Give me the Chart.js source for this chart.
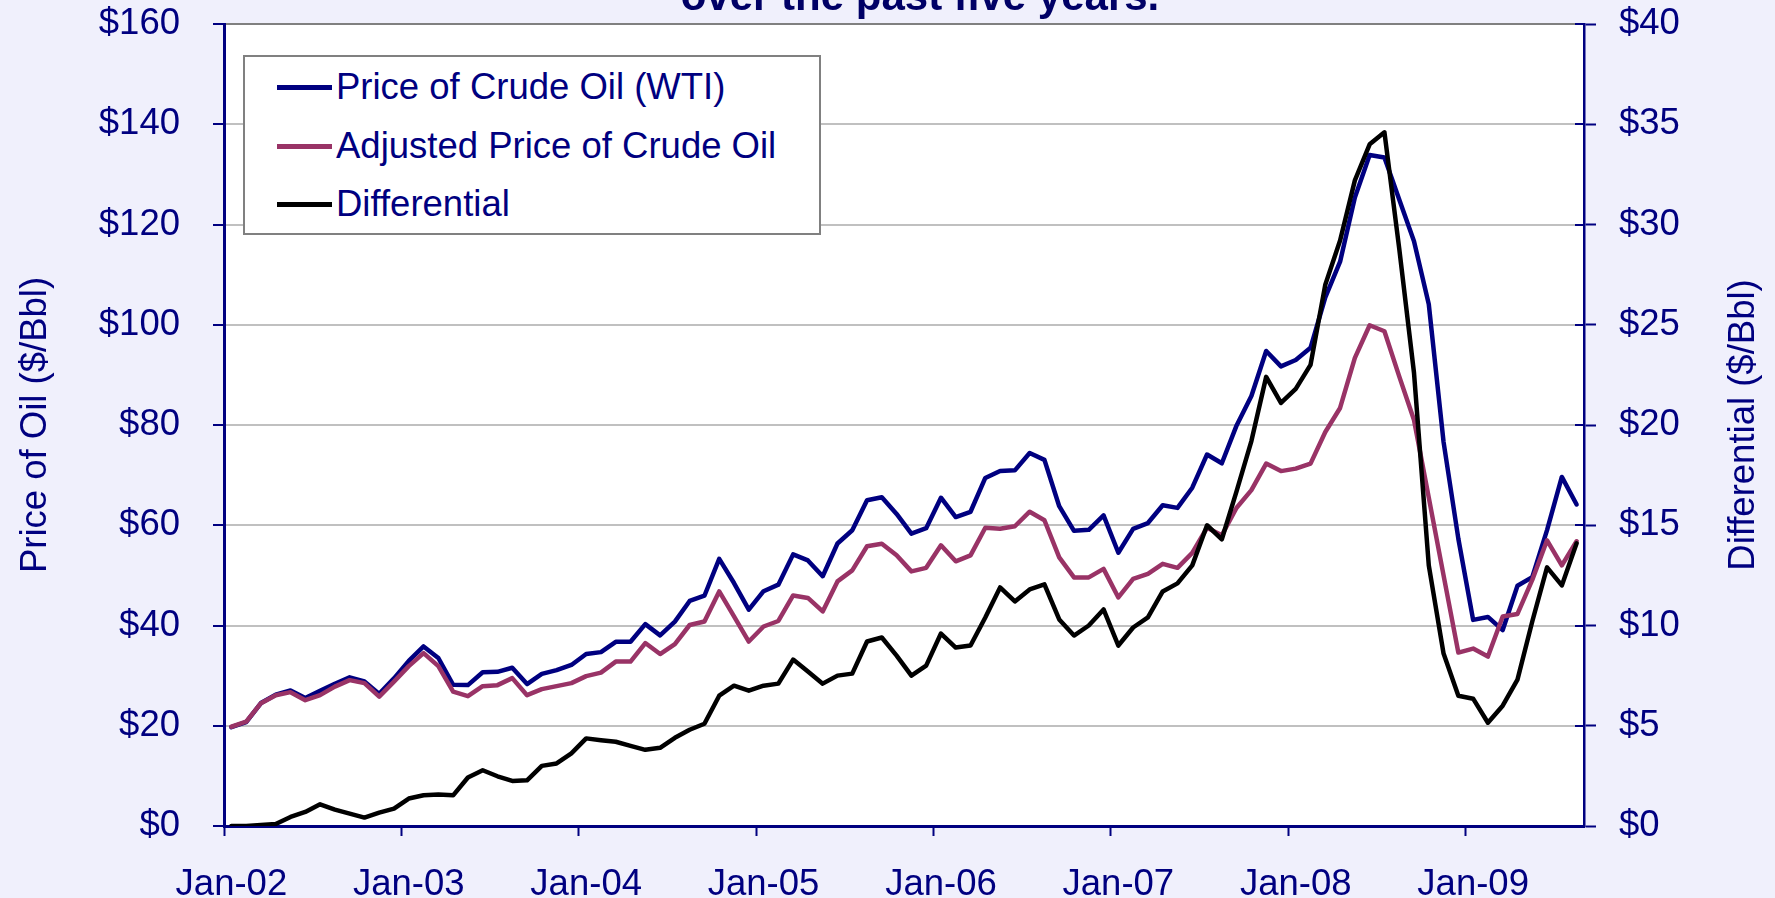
<!DOCTYPE html>
<html>
<head>
<meta charset="utf-8">
<script src="https://cdn.jsdelivr.net/npm/chart.js@4.4.1/dist/chart.umd.min.js"></script>
<style>
  html, body { margin: 0; padding: 0; background: #F0F0FC; overflow: hidden; }
  #wrap { position: relative; width: 1775px; height: 898px; overflow: hidden; }
  #c { position: absolute; left: 0; top: 0; }
  #title { position: absolute; left: 920px; top: -25px; transform: translateX(-50%);
           font: bold 42px 'Liberation Sans', Arial, sans-serif; line-height: 42px;
           color: #000066; white-space: nowrap; }
  #legend { position: absolute; left: 243px; top: 55px; width: 574px; height: 176px;
            background: #ffffff; border: 2px solid #808080; }
  .row { position: absolute; left: 0; height: 40px; display: flex; align-items: center;
         font: 36.5px 'Liberation Sans', Arial, sans-serif; color: #000080; white-space: nowrap; }
  .sw { display: inline-block; width: 55px; height: 5px; margin-left: 32px; margin-right: 4px; }
</style>
</head>
<body>
<div id="wrap">
  <canvas id="c" width="1775" height="898"></canvas>
  <div id="title"></div>
  <div id="legend"></div>
</div>
<script>
// ---------------- data ----------------
const chartTitle = 'over the past five years.';
const leftAxisTitle = 'Price of Oil ($/Bbl)';
const rightAxisTitle = 'Differential ($/Bbl)';
const tickLabels = ['Jan-02', 'Jan-03', 'Jan-04', 'Jan-05', 'Jan-06', 'Jan-07', 'Jan-08', 'Jan-09'];
const monthNames = ['Jan','Feb','Mar','Apr','May','Jun','Jul','Aug','Sep','Oct','Nov','Dec'];
const seriesNames = ['Price of Crude Oil (WTI)', 'Adjusted Price of Crude Oil', 'Differential'];

const wti = [19.71,20.72,24.53,26.18,27.04,25.52,26.97,28.39,29.66,28.84,26.35,29.46,
  32.95,35.83,33.51,28.17,28.11,30.66,30.76,31.57,28.31,30.34,31.11,32.13,
  34.31,34.69,36.74,36.75,40.28,38.03,40.78,44.90,45.94,53.28,48.47,43.15,
  46.84,48.15,54.19,52.98,49.83,56.35,59.00,64.99,65.59,62.26,58.32,59.41,
  65.49,61.63,62.69,69.44,70.84,70.95,74.41,73.04,63.80,58.89,59.08,61.96,
  54.51,59.28,60.44,63.98,63.46,67.49,74.12,72.36,79.92,85.80,94.77,91.69,
  92.97,95.39,105.45,112.58,125.40,133.88,133.37,125.0,116.67,104.11,76.61,57.31,
  41.12,41.71,39.09,47.94,49.65,59.03,69.64,64.15];

const adjusted = [19.8,20.8,24.5,26.1,26.7,25.1,26.1,27.8,29.1,28.5,25.8,28.8,
  31.9,34.5,31.9,26.8,25.9,27.9,28.1,29.5,26.1,27.3,27.9,28.5,
  29.9,30.6,32.8,32.8,36.5,34.3,36.3,40.1,40.8,46.8,41.8,36.8,
  39.8,40.9,46.0,45.5,42.8,48.8,51.0,55.8,56.3,54.0,50.8,51.5,
  56.0,52.8,54.0,59.5,59.3,59.8,62.7,61.0,53.6,49.6,49.6,51.3,
  45.6,49.3,50.3,52.3,51.5,54.5,59.5,58.0,63.5,67.0,72.3,70.8,
  71.3,72.3,78.6,83.4,93.4,99.9,98.7,89.7,81.0,65.5,50.0,34.6,
  35.4,33.8,41.8,42.3,49.1,57.0,52.0,56.8];

const differential = [0.0,0.0,0.05,0.1,0.45,0.7,1.08,0.82,0.62,0.42,0.67,0.87,
  1.37,1.53,1.57,1.53,2.42,2.78,2.48,2.25,2.28,3.0,3.12,3.62,
  4.37,4.28,4.2,4.0,3.8,3.9,4.4,4.8,5.1,6.5,7.0,6.75,
  7.0,7.1,8.3,7.7,7.1,7.5,7.6,9.2,9.4,8.5,7.5,8.0,
  9.6,8.9,9.0,10.4,11.9,11.2,11.8,12.05,10.3,9.5,10.0,10.8,
  9.0,9.9,10.4,11.7,12.1,13.0,15.0,14.3,16.7,19.2,22.4,21.1,
  21.8,23.0,27.0,29.2,32.2,34.0,34.6,28.8,22.6,13.0,8.6,6.5,
  6.35,5.15,6.0,7.3,10.2,12.9,12.0,14.1];

// category labels (one per point)
const monthLabels = [];
for (let k = 0; k < wti.length; k++) {
  monthLabels.push(monthNames[k % 12] + '-' + String(2 + Math.floor(k / 12)).padStart(2, '0'));
}

// ---------------- style ----------------
const FONT = "'Liberation Sans', Arial, Helvetica, sans-serif";
const NAVY = '#000080';
const COLORS = ['#000080', '#993366', '#000000'];

const plotBg = {
  id: 'plotBg',
  beforeDraw(chart) {
    const a = chart.chartArea, ctx = chart.ctx;
    ctx.save();
    ctx.fillStyle = '#ffffff';
    ctx.fillRect(a.left, a.top, a.right - a.left, a.bottom - a.top);
    ctx.restore();
  }
};

const rightExtras = {
  id: 'rightExtras',
  afterDraw(chart) {
    const a = chart.chartArea, ctx = chart.ctx;
    const s = chart.scales.y2;
    ctx.save();
    // inner half of the crossing tick marks on the right axis
    ctx.strokeStyle = NAVY;
    ctx.lineWidth = 2;
    s.ticks.forEach((t) => {
      const y = Math.round(s.getPixelForValue(t.value));
      ctx.beginPath();
      ctx.moveTo(a.right - 9, y);
      ctx.lineTo(a.right, y);
      ctx.stroke();
    });
    // right axis title, reading bottom-to-top
    ctx.translate(s.right - 31, (a.top + a.bottom) / 2);
    ctx.rotate(-Math.PI / 2);
    ctx.font = '36.5px ' + FONT;
    ctx.fillStyle = NAVY;
    ctx.textAlign = 'center';
    ctx.textBaseline = 'middle';
    ctx.fillText(rightAxisTitle, 0, 0);
    ctx.restore();
  }
};

const tickFont = { family: FONT, size: 36.5 };
const noPadV = (s) => { s.paddingTop = 0; s.paddingBottom = 0; };

const chart = new Chart(document.getElementById('c'), {
  type: 'line',
  data: {
    labels: monthLabels,
    datasets: [
      { label: seriesNames[0], data: wti, borderColor: COLORS[0], yAxisID: 'y', order: 3 },
      { label: seriesNames[1], data: adjusted, borderColor: COLORS[1], yAxisID: 'y', order: 2 },
      { label: seriesNames[2], data: differential, borderColor: COLORS[2], yAxisID: 'y2', order: 1 }
    ]
  },
  options: {
    responsive: false,
    animation: false,
    devicePixelRatio: 1,
    layout: { padding: { top: 24, left: 0, right: 0, bottom: 0 } },
    elements: {
      line: { borderWidth: 4.5, tension: 0, borderJoinStyle: 'round', borderCapStyle: 'round', fill: false },
      point: { radius: 0, hoverRadius: 0 }
    },
    plugins: { legend: { display: false }, tooltip: { enabled: false }, title: { display: false } },
    scales: {
      x: {
        type: 'category',
        position: 'bottom',
        offset: true,
        grid: {
          offset: true,
          drawOnChartArea: false,
          drawTicks: true,
          tickLength: 10,
          tickWidth: 2,
          tickColor: (ctx) => (ctx.index % 12 === 0 && ctx.index < wti.length) ? NAVY : 'rgba(0,0,0,0)'
        },
        border: { color: NAVY, width: 3 },
        ticks: {
          autoSkip: false, maxRotation: 0, minRotation: 0,
          color: NAVY, font: tickFont, padding: 27,
          callback: (v, i) => (i % 12 === 0 ? tickLabels[i / 12] : '')
        },
        afterFit: (s) => { s.height = 72; s.paddingLeft = 0; s.paddingRight = 0; }
      },
      y: {
        position: 'left',
        min: 0, max: 160,
        ticks: { stepSize: 20, color: NAVY, font: tickFont, padding: 33, callback: (v) => '$' + v },
        grid: {
          color: (ctx) => ctx.tick.value === 160 ? '#808080' : (ctx.tick.value === 0 ? 'rgba(0,0,0,0)' : '#C0C0C0'),
          lineWidth: 2,
          tickColor: NAVY, tickLength: 11, tickWidth: 2
        },
        border: { color: NAVY, width: 3 },
        title: { display: true, text: leftAxisTitle, color: NAVY, font: tickFont, padding: { top: 14, bottom: 0 } },
        afterFit: (s) => { s.width = 224; noPadV(s); }
      },
      y2: {
        position: 'right',
        min: 0, max: 40,
        ticks: { stepSize: 5, color: NAVY, font: tickFont, padding: 23, callback: (v) => '$' + v },
        grid: { drawOnChartArea: false, tickColor: NAVY, tickLength: 12, tickWidth: 2 },
        border: { color: NAVY, width: 2.5 },
        afterFit: (s) => { s.width = 191; noPadV(s); }
      }
    }
  },
  plugins: [plotBg, rightExtras]
});

// title (real text)
document.getElementById('title').textContent = chartTitle;

// legend (real text, built from the chart datasets)
const lg = document.getElementById('legend');
const rowTops = [10, 69, 127];
chart.data.datasets.forEach((ds, k) => {
  const row = document.createElement('div');
  row.className = 'row';
  row.style.top = rowTops[k] + 'px';
  const sw = document.createElement('span');
  sw.className = 'sw';
  sw.style.background = ds.borderColor;
  const tx = document.createElement('span');
  tx.textContent = ds.label;
  row.appendChild(sw);
  row.appendChild(tx);
  lg.appendChild(row);
});
</script>
</body>
</html>
